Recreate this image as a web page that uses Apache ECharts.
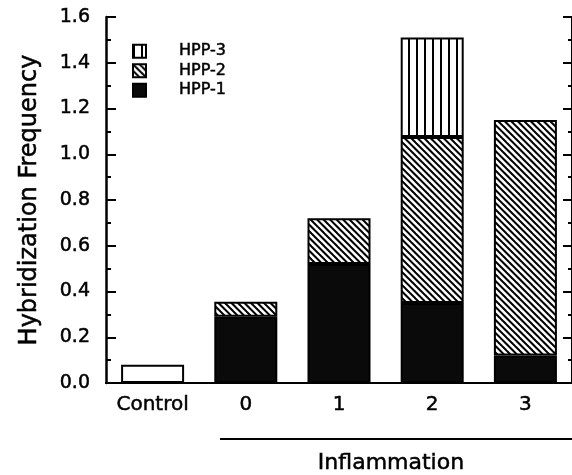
<!DOCTYPE html>
<html><head><meta charset="utf-8">
<script src="https://cdn.jsdelivr.net/npm/echarts@6/dist/echarts.min.js"></script>
<style>html,body{margin:0;padding:0;background:#fff}#c{width:572px;height:475px}</style>
</head><body><div id="c"></div>
<script>
var categories = ['Control', '0', '1', '2', '3'];
var control = [0.08, '-', '-', '-', '-'];
var hpp1 = ['-', 0.29, 0.52, 0.35, 0.12];
var hpp2 = ['-', 0.065, 0.20, 0.725, 1.03];
var hpp3 = ['-', '-', '-', 0.435, '-'];
var legendNames = ['HPP-3', 'HPP-2', 'HPP-1'];

var FONT = 'DejaVu Sans';
var STROKE = {textBorderColor: '#000', textBorderWidth: 0.5};

function verticalPattern() {
  var c = document.createElement('canvas');
  c.width = 8; c.height = 8;
  var g = c.getContext('2d');
  g.fillStyle = '#fff'; g.fillRect(0, 0, 8, 8);
  g.fillStyle = '#000'; g.fillRect(0, 0, 2, 8);
  return c;
}
function diagPattern() {
  var s = 13;
  var c = document.createElement('canvas');
  c.width = s; c.height = s;
  var g = c.getContext('2d');
  g.fillStyle = '#fff'; g.fillRect(0, 0, s, s);
  g.strokeStyle = '#000'; g.lineWidth = 2;
  [-13, -6.5, 0, 6.5, 13].forEach(function (k) {
    g.beginPath(); g.moveTo(k - 2, -2); g.lineTo(k + s + 2, s + 2); g.stroke();
  });
  return c;
}

var chart = echarts.init(document.getElementById('c'), null, {renderer: 'canvas'});
var barW = 63;
var base = {type: 'bar', stack: 'a', barWidth: barW};
function style(color) {
  return {color: color, borderColor: '#000', borderWidth: 2};
}
function txt(o) { return Object.assign({}, STROKE, o); }

var option = {
  animation: false,
  backgroundColor: '#fff',
  grid: {left: 106, right: -3, top: 17, bottom: 92, containLabel: false},
  legend: {
    orient: 'vertical', left: 132, top: 43, padding: 0, icon: 'rect',
    itemWidth: 13, itemHeight: 13, itemGap: 3,
    data: legendNames,
    textStyle: txt({fontFamily: FONT, fontSize: 16, color: '#000', lineHeight: 16, padding: [0, 0, 0, 28]})
  },
  xAxis: [{
    type: 'category', data: categories, position: 'bottom',
    axisLine: {lineStyle: {color: '#000', width: 2}},
    axisTick: {show: false},
    axisLabel: txt({interval: 0, color: '#000', fontFamily: FONT, fontSize: 20, margin: 12})
  }, {
    type: 'category', data: categories, position: 'top',
    axisLine: {lineStyle: {color: '#000', width: 2}},
    axisTick: {show: false}, axisLabel: {show: false}
  }],
  yAxis: [{
    type: 'value', min: 0, max: 1.6, interval: 0.2, position: 'left',
    name: 'Hybridization Frequency', nameLocation: 'middle', nameGap: 64,
    nameTextStyle: txt({fontFamily: FONT, fontSize: 24, color: '#000'}),
    axisLine: {show: true, lineStyle: {color: '#000', width: 2.5}},
    axisTick: {show: true, inside: true, length: 10, lineStyle: {color: '#000', width: 2}},
    minorTick: {show: true, splitNumber: 2, length: 5, lineStyle: {color: '#000', width: 2}},
    splitLine: {show: false},
    axisLabel: txt({color: '#000', fontFamily: FONT, fontSize: 19, margin: 16,
      formatter: function (v) { return v.toFixed(1); }})
  }, {
    type: 'value', min: 0, max: 1.6, interval: 0.2, position: 'right',
    axisLine: {show: true, lineStyle: {color: '#000', width: 2}},
    axisTick: {show: true, inside: true, length: 9, lineStyle: {color: '#000', width: 2}},
    minorTick: {show: true, splitNumber: 2, length: 4, lineStyle: {color: '#000', width: 2}},
    splitLine: {show: false}, axisLabel: {show: false}
  }],
  series: [
    Object.assign({}, base, {name: 'Control', data: control, itemStyle: style('#fff')}),
    Object.assign({}, base, {name: 'HPP-1', data: hpp1, itemStyle: style('#0a0a0a')}),
    Object.assign({}, base, {name: 'HPP-2', data: hpp2, itemStyle: style({image: diagPattern(), repeat: 'repeat'})}),
    Object.assign({}, base, {name: 'HPP-3', data: hpp3, itemStyle: style({image: verticalPattern(), repeat: 'repeat'})})
  ],
  graphic: [{
    type: 'line', shape: {x1: 220, y1: 439, x2: 572, y2: 439},
    style: {stroke: '#000', lineWidth: 2}
  }, {
    type: 'text', x: 391, y: 463,
    style: {text: 'Inflammation', fontFamily: FONT, fontSize: 22, fill: '#000', stroke: '#000', lineWidth: 0.5, textAlign: 'center', textVerticalAlign: 'middle'}
  }]
};
chart.setOption(option);
</script></body></html>
